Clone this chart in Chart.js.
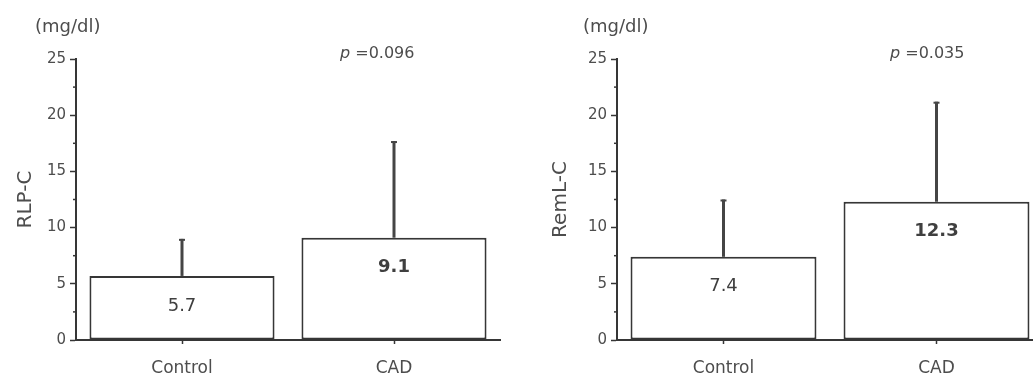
<!DOCTYPE html>
<html>
<head>
<meta charset="utf-8">
<script src="https://cdn.jsdelivr.net/npm/chart.js@4/dist/chart.umd.min.js"></script>
<style>
  html, body { margin: 0; padding: 0; background: #fff; }
  body { width: 1033px; height: 378px; overflow: hidden; position: relative; }
  .panel { position: absolute; top: 0; height: 378px; }
  #p1 { left: 0; width: 517px; }
  #p2 { left: 517px; width: 540px; }
</style>
</head>
<body>
<div class="panel" id="p1"><canvas id="c1" width="517" height="378"></canvas></div>
<div class="panel" id="p2"><canvas id="c2" width="540" height="378"></canvas></div>
<script>
// RLP-C / RemL-C, Control vs CAD (mean + SD)
const categories = ['Control', 'CAD'];
const rlpMeans = [5.7, 9.1];
const rlpSD = [3.3, 8.6];
const remlMeans = [7.4, 12.3];
const remlSD = [5.1, 8.9];
const yTicks = [0, 5, 10, 15, 20, 25];
const yMinor = [2.5, 7.5, 12.5, 17.5, 22.5];

const FONT = 'DejaVu Sans';
const TXT = '#4d4d4d';
const LINE = '#363636';

// error bars, value labels, minor ticks, unit and p text
const extras = {
  id: 'extras',
  afterDatasetsDraw(chart, args, o) {
    const ctx = chart.ctx;
    const y = chart.scales.y;
    const meta = chart.getDatasetMeta(0);
    ctx.save();
    // minor ticks
    ctx.strokeStyle = LINE;
    ctx.lineWidth = 1.5;
    yMinor.forEach(v => {
      const py = y.getPixelForValue(v);
      ctx.beginPath();
      ctx.moveTo(chart.chartArea.left - 3, py);
      ctx.lineTo(chart.chartArea.left, py);
      ctx.stroke();
    });
    // error bars (upper only)
    ctx.strokeStyle = '#454545';
    meta.data.forEach((bar, i) => {
      const top = y.getPixelForValue(o.means[i] + o.sd[i]);
      ctx.lineWidth = 3;
      ctx.beginPath();
      ctx.moveTo(bar.x, bar.y);
      ctx.lineTo(bar.x, top);
      ctx.stroke();
      ctx.lineWidth = 2;
      ctx.beginPath();
      ctx.moveTo(bar.x - 3, top + 1);
      ctx.lineTo(bar.x + 3, top + 1);
      ctx.stroke();
    });
    // value labels inside bars
    ctx.fillStyle = '#3f3f3f';
    ctx.textAlign = 'center';
    ctx.textBaseline = 'middle';
    meta.data.forEach((bar, i) => {
      ctx.font = (i === 1 ? 'bold ' : '') + '18px "' + FONT + '"';
      ctx.fillText(o.means[i].toFixed(1), bar.x, bar.y + 30);
    });
    // unit
    ctx.fillStyle = TXT;
    ctx.textAlign = 'left';
    ctx.font = '18px "' + FONT + '"';
    ctx.fillText('(mg/dl)', o.unitX, 27);
    // p value
    ctx.font = 'italic 16px "' + FONT + '"';
    ctx.fillText('p', o.pX, 54);
    const w = ctx.measureText('p ').width;
    ctx.font = '16px "' + FONT + '"';
    ctx.fillText('=' + o.p, o.pX + w, 54);
    ctx.restore();
  }
};

function makeChart(id, label, means, sd, p, leftPad, yWidth, rightPad, unitX, pX) {
  return new Chart(document.getElementById(id), {
    type: 'bar',
    data: {
      labels: categories,
      datasets: [{
        data: means,
        backgroundColor: '#ffffff',
        borderColor: LINE,
        borderWidth: 2,
        borderSkipped: false,
        barPercentage: 0.873,
        categoryPercentage: 1
      }]
    },
    options: {
      responsive: false,
      animation: false,
      layout: { padding: { left: leftPad, right: rightPad, top: 59, bottom: 0 } },
      plugins: {
        legend: { display: false },
        tooltip: { enabled: false },
        extras: { means: means, sd: sd, p: p, unitX: unitX, pX: pX }
      },
      scales: {
        x: {
          offset: true,
          grid: { offset: false, drawOnChartArea: false, drawTicks: true, tickLength: 4, color: LINE, tickWidth: 1.5 },
          border: { display: true, color: LINE, width: 2 },
          ticks: { color: TXT, padding: 14, font: { family: FONT, size: 17 } },
          afterFit: s => { s.height = 38; }
        },
        y: {
          min: 0, max: 25,
          afterBuildTicks: s => { s.ticks = yTicks.map(v => ({ value: v })); },
          grid: { drawOnChartArea: false, drawTicks: true, tickLength: 6, color: LINE, tickWidth: 1.5 },
          border: { display: true, color: LINE, width: 2 },
          ticks: { color: TXT, padding: 4, font: { family: FONT, size: 15 } },
          title: { display: true, text: label, color: TXT, font: { family: FONT, size: 20 }, padding: { top: 4, bottom: 4 } },
          afterFit: s => { s.width = yWidth; }
        }
      }
    },
    plugins: [extras]
  });
}

makeChart('c1', 'RLP-C', rlpMeans, rlpSD, '0.096', 10, 66, 17, 35, 340);
makeChart('c2', 'RemL-C', remlMeans, remlSD, '0.035', 28, 72, 14, 66, 373);
</script>
</body>
</html>
